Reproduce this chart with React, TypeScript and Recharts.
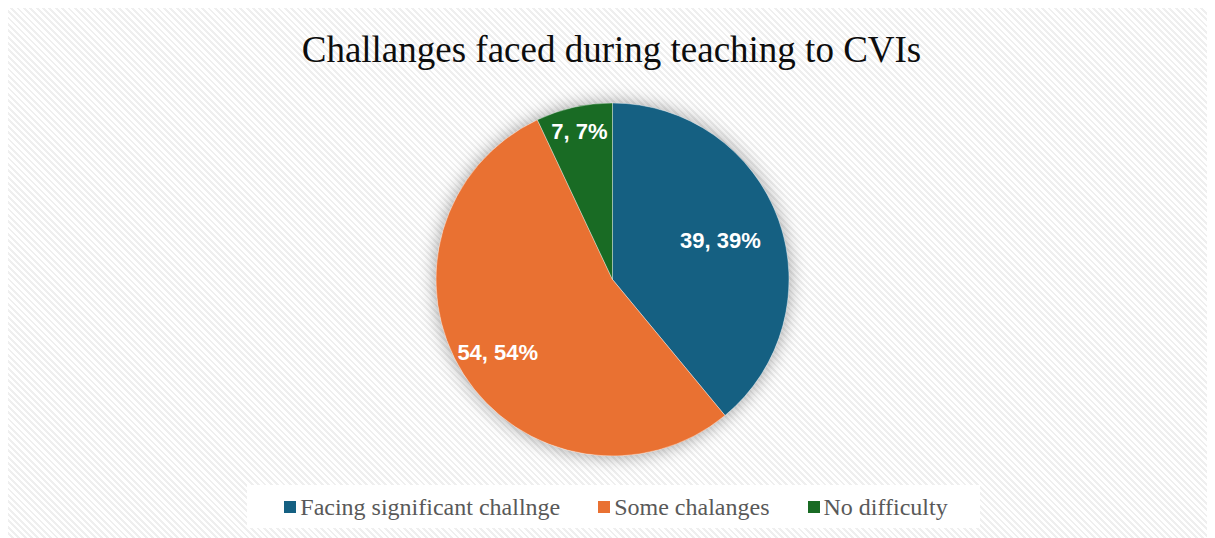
import React from 'react';
import { PieChart, Pie, Cell, Legend } from 'recharts';

const title = 'Challanges faced during teaching to CVIs';
const categories = ['Facing significant challnge', 'Some chalanges', 'No difficulty'];
const counts = [39, 54, 7];
const percents = [39, 54, 7];
const colors = ['#156082', '#E97132', '#196B24'];

const data = categories.map((name, i) => ({ name, value: counts[i] }));
const shadowData = [{ name: 'shadow', value: 1 }];

// label distance from centre as a fraction of the radius (Excel "best fit")
const LABEL_RADIUS = [0.65, 0.77, 0.86];
const RAD = Math.PI / 180;

const renderLabel = (props: any) => {
  const { cx, cy, midAngle, outerRadius, index } = props;
  const r = Number(outerRadius) * LABEL_RADIUS[index];
  const x = Number(cx) + r * Math.cos(-midAngle * RAD);
  const y = Number(cy) + r * Math.sin(-midAngle * RAD);
  return (
    <text
      x={x}
      y={y}
      fill="#ffffff"
      textAnchor="middle"
      dominantBaseline="central"
      fontFamily="'Liberation Sans', Arial, sans-serif"
      fontWeight="bold"
      fontSize={22}
    >
      {`${counts[index]}, ${percents[index]}%`}
    </text>
  );
};

const renderLegend = () => (
  <div style={{ display: 'flex', justifyContent: 'center' }}>
    <div
      style={{
        display: 'flex',
        alignItems: 'center',
        background: '#ffffff',
        height: 43,
        marginLeft: 4,
        padding: '0 32px 0 37px',
        fontFamily: "'Liberation Serif', 'Times New Roman', serif",
        fontSize: 24,
        color: '#595959',
      }}
    >
      {categories.map((c, i) => (
        <div key={c} style={{ display: 'flex', alignItems: 'center', marginLeft: i === 0 ? 0 : 38 }}>
          <span style={{ display: 'inline-block', width: 12, height: 12, background: colors[i], marginRight: 4 }} />
          <span style={{ lineHeight: '24px' }}>{c}</span>
        </div>
      ))}
    </div>
  </div>
);

export default function App() {
  return (
    <div
      style={{
        position: 'relative',
        width: 1207,
        height: 530,
        marginLeft: -2,
        marginTop: -1,
        borderLeft: '2px solid #d9d9d9',
        borderTop: '1px solid #d9d9d9',
        background:
          'repeating-linear-gradient(45deg, #ffffff 0px, #ffffff 2.5px, #efefef 2.5px, #efefef 4.5px)',
        overflow: 'hidden',
      }}
    >
      <style>{`.shadow-pie path { filter: drop-shadow(0 0 9px rgba(0,0,0,0.38)); }`}</style>
      <div
        style={{
          position: 'absolute',
          top: 23,
          left: 0,
          width: '100%',
          textAlign: 'center',
          fontFamily: "'Liberation Serif', 'Times New Roman', serif",
          fontSize: 37,
          lineHeight: '37px',
          color: '#0d0d0d',
          whiteSpace: 'nowrap',
        }}
      >
        {title}
      </div>
      <div style={{ position: 'absolute', left: 0, top: 0 }}>
        <PieChart width={1207} height={530} margin={{ top: 0, right: 0, bottom: 10, left: 0 }}>
          <Pie
            className="shadow-pie"
            data={shadowData}
            dataKey="value"
            cx={604.5}
            cy={271.5}
            outerRadius={176.5}
            startAngle={90}
            endAngle={-270}
            stroke="none"
            fill="#ffffff"
            isAnimationActive={false}
            legendType="none"
          />
          <Pie
            data={data}
            dataKey="value"
            nameKey="name"
            cx={604.5}
            cy={271.5}
            outerRadius={176.5}
            startAngle={90}
            endAngle={-270}
            stroke="rgba(255,255,255,0.35)"
            strokeWidth={1}
            label={renderLabel}
            labelLine={false}
            isAnimationActive={false}
          >
            {data.map((d, i) => (
              <Cell key={d.name} fill={colors[i]} />
            ))}
          </Pie>
          <Legend verticalAlign="bottom" align="center" content={renderLegend} />
        </PieChart>
      </div>
    </div>
  );
}
